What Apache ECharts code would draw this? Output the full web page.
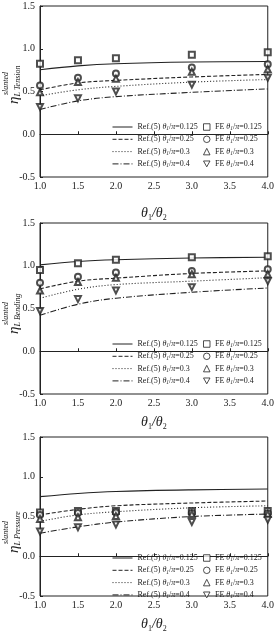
<!DOCTYPE html>
<html>
<head>
<meta charset="utf-8">
<script src="https://cdn.jsdelivr.net/npm/echarts@6/dist/echarts.min.js"></script>
<style>
  html, body { margin: 0; padding: 0; background: #fff; }
  #main { width: 277px; height: 634px; }
</style>
</head>
<body>
<div id="main"></div>
<script>
// theta1/theta2 values where curves and FE points are read
const thetaRatio = [1.0, 1.5, 2.0, 3.0, 4.0];
// theta1/pi of the four cases
const piRatios = ['0.125', '0.25', '0.3', '0.4'];
const loadCases = ['Tension', 'Bending', 'Pressure'];

// Ref.(5) curves, one row per theta1/pi
const tensionRef = [
  [0.755, 0.80, 0.825, 0.845, 0.85],
  [0.52, 0.60, 0.63, 0.67, 0.70],
  [0.45, 0.52, 0.56, 0.61, 0.64],
  [0.29, 0.39, 0.44, 0.49, 0.53]
];
const tensionFE = [
  [0.825, 0.865, 0.89, 0.93, 0.96],
  [0.57, 0.66, 0.71, 0.78, 0.82],
  [0.49, 0.61, 0.65, 0.73, 0.76],
  [0.32, 0.42, 0.50, 0.58, 0.66]
];
const bendingRef = [
  [1.01, 1.05, 1.07, 1.09, 1.10],
  [0.73, 0.82, 0.855, 0.91, 0.94],
  [0.62, 0.725, 0.78, 0.82, 0.86],
  [0.42, 0.55, 0.62, 0.69, 0.74]
];
const bendingFE = [
  [0.95, 1.03, 1.07, 1.10, 1.11],
  [0.80, 0.87, 0.92, 0.94, 0.96],
  [0.71, 0.81, 0.86, 0.90, 0.90],
  [0.47, 0.61, 0.71, 0.75, 0.82]
];
const pressureRef = [
  [0.75, 0.79, 0.815, 0.835, 0.845],
  [0.52, 0.59, 0.635, 0.67, 0.695],
  [0.44, 0.52, 0.56, 0.61, 0.635],
  [0.29, 0.37, 0.43, 0.50, 0.53]
];
const pressureFE = [
  [0.55, 0.57, 0.57, 0.57, 0.57],
  [0.52, 0.545, 0.55, 0.545, 0.54],
  [0.47, 0.49, 0.505, 0.53, 0.53],
  [0.31, 0.365, 0.40, 0.43, 0.46]
];

const refData = [tensionRef, bendingRef, pressureRef];
const feData = [tensionFE, bendingFE, pressureFE];

const ink = '#222';
const serif = 'Liberation Serif';
const dashes = ['solid', [4, 2], [1, 2], [6, 2, 1, 2]];
const markers = ['emptyRect', 'emptyCircle', 'emptyTriangle', 'emptyTriangle'];
const markerRotate = [0, 0, 0, 180];
// legend icons: filled shapes with white fill + dark border (down triangle as a path)
const legendIcons = ['rect', 'circle', 'triangle', 'path://M0,0L10,0L5,9Z'];

// panel layout
const gridTops = [6, 223, 437];
const gridHeight = 171;
const xNameGaps = [27, 19, 19];
const etaBottom = [104, 334, 553];

const refNames = piRatios.map(r => 'Ref.(5) ' + r);
const feNames = piRatios.map(r => 'FE ' + r);

const legendRich = {
  n: { fontFamily: serif, fontSize: 8, color: ink, lineHeight: 10 },
  t: { fontFamily: serif, fontSize: 8, fontStyle: 'italic', color: ink, lineHeight: 10 },
  s: { fontFamily: serif, fontSize: 5.5, fontStyle: 'italic', color: ink, lineHeight: 5, verticalAlign: 'bottom' }
};
const legendText = (prefix, r) => '{n|' + prefix + '}{t|θ}{s|1}{n|/}{t|π}{n|=' + r + '}';

const chart = echarts.init(document.getElementById('main'));

const grids = [], xAxes = [], yAxes = [], series = [], legends = [], graphics = [];

gridTops.forEach((top, g) => {
  grids.push({
    left: 40, right: 4, top: top, height: gridHeight,
    show: true, borderColor: ink, borderWidth: 1
  });
  xAxes.push({
    gridIndex: g, type: 'value', min: 1, max: 4, interval: 0.5,
    name: '{t|θ}{s|1}{t|/θ}{s|2}',
    nameLocation: 'middle', nameGap: xNameGaps[g],
    nameTextStyle: {
      rich: {
        t: { fontFamily: serif, fontSize: 14, fontStyle: 'italic', color: ink, lineHeight: 18 },
        s: { fontFamily: serif, fontSize: 8, color: ink, lineHeight: 8, verticalAlign: 'bottom' }
      }
    },
    axisLine: { lineStyle: { color: ink } },
    axisTick: { inside: true, length: 3, lineStyle: { color: ink } },
    axisLabel: { fontFamily: serif, fontSize: 10, color: ink, margin: 4,
      formatter: v => v.toFixed(1) },
    splitLine: { show: false }
  });
  yAxes.push({
    gridIndex: g, type: 'value', min: -0.5, max: 1.5, interval: 0.5,
    axisLine: { show: true, lineStyle: { color: ink } },
    axisTick: { show: true, inside: true, length: 3, lineStyle: { color: ink } },
    axisLabel: { fontFamily: serif, fontSize: 10, color: ink, margin: 5,
      formatter: v => v.toFixed(1) },
    splitLine: { show: false }
  });

  piRatios.forEach((r, k) => {
    series.push({
      name: refNames[k], type: 'line', xAxisIndex: g, yAxisIndex: g,
      data: thetaRatio.map((x, i) => [x, refData[g][k][i]]),
      smooth: 0.35, symbol: 'none',
      lineStyle: { color: ink, width: 1.1, type: dashes[k] },
      itemStyle: { color: ink },
      z: 2
    });
  });
  piRatios.forEach((r, k) => {
    series.push({
      name: feNames[k], type: 'scatter', xAxisIndex: g, yAxisIndex: g,
      data: thetaRatio.map((x, i) => [x, feData[g][k][i]]),
      symbol: markers[k], symbolRotate: markerRotate[k], symbolSize: 6,
      itemStyle: { color: ink, borderColor: ink, borderWidth: 1 },
      z: 3
    });
  });

  legends.push({
    data: refNames, orient: 'vertical', left: 112, top: top + 117, padding: 0,
    itemWidth: 20, itemHeight: 8, itemGap: 3.3,
    itemStyle: { opacity: 0 },
    lineStyle: { width: 1 },
    formatter: name => legendText('Ref.(5) ', name.replace('Ref.(5) ', '')),
    textStyle: { rich: legendRich }, selectedMode: false
  });
  legends.push({
    data: feNames.map((name, k) => ({
      name: name, icon: legendIcons[k],
      itemStyle: { color: '#fff', borderColor: ink, borderWidth: 1 }
    })),
    orient: 'vertical', left: 203, top: top + 117, padding: 0,
    itemWidth: 6.5, itemHeight: 6.5, itemGap: 3.3,
    formatter: name => legendText('FE ', name.replace('FE ', '')),
    textStyle: { rich: legendRich }, selectedMode: false
  });

  // rotated y-axis title: eta with superscript "slanted" and subscript "L <case>"
  graphics.push({
    type: 'text', x: 14, y: etaBottom[g], rotation: Math.PI / 2,
    style: {
      text: '{e|η}{b|L ' + loadCases[g] + '}',
      textAlign: 'left', textVerticalAlign: 'middle',
      rich: {
        e: { fontFamily: serif, fontSize: 15, fontStyle: 'italic', fill: ink, lineHeight: 16 },
        b: { fontFamily: serif, fontSize: 8, fontStyle: 'italic', fill: ink, lineHeight: 8, verticalAlign: 'bottom' }
      }
    }
  });
  graphics.push({
    type: 'text', x: 6, y: etaBottom[g] - 9, rotation: Math.PI / 2,
    style: {
      text: 'slanted', textAlign: 'left', textVerticalAlign: 'middle',
      fontFamily: serif, fontSize: 8, fontStyle: 'italic', fill: ink
    }
  });
});

chart.setOption({
  animation: false,
  backgroundColor: '#fff',
  grid: grids,
  xAxis: xAxes,
  yAxis: yAxes,
  legend: legends,
  graphic: graphics,
  series: series
});
</script>
</body>
</html>
